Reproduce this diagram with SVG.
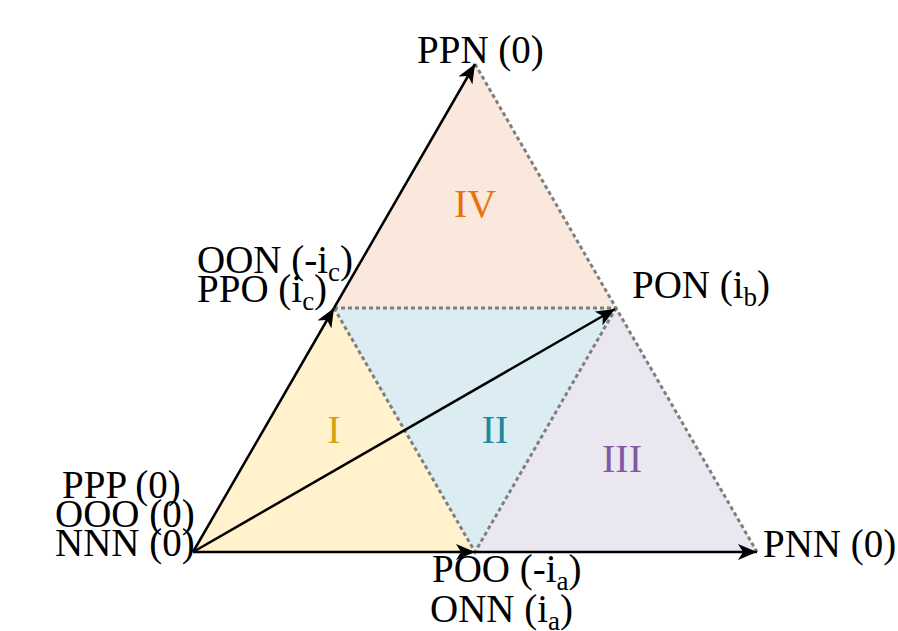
<svg xmlns="http://www.w3.org/2000/svg" width="898" height="631" viewBox="0 0 898 631">
<style>
.lbl{font-family:"Liberation Serif","Times New Roman",serif;font-size:39px;fill:#000}
.sub{font-size:27px}
.num{font-family:"Liberation Serif","Times New Roman",serif;font-size:40px;text-anchor:middle}
.dash{fill:none;stroke:#7f7f7f;stroke-width:3;stroke-dasharray:4 3}
.ax{fill:none;stroke:#000;stroke-width:2.5}
</style>
<defs>
<marker id="ah" markerUnits="userSpaceOnUse" markerWidth="20" markerHeight="16" refX="19" refY="8" orient="auto">
<path d="M0,0 L19,8 L0,16 L5,8 Z" fill="#000"/>
</marker>
</defs>
<rect width="898" height="631" fill="#fff"/>
<g id="region-I"><polygon points="193,552 475,552 334,308" fill="#fff2cc"/><text class="num" x="334" y="443" fill="#d4a20c">I</text></g>
<g id="region-II"><polygon points="334,308 616,308 475,552" fill="#dbedf3"/><text class="num" x="495" y="443" fill="#23879b">II</text></g>
<g id="region-III"><polygon points="475,552 757,552 616,308" fill="#ebe7f0"/><text class="num" x="622" y="472" fill="#7f5aa2">III</text></g>
<g id="region-IV"><polygon points="334,308 616,308 475,64" fill="#fbe8dc"/><text class="num" x="475" y="217" fill="#e8730e">IV</text></g>
<g id="connectors">
<path class="dash" d="M475,64 L757,552"/>
<path class="dash" d="M334,308 L616,308"/>
<path class="dash" d="M334,308 L475,552 L616,308"/>
<path class="ax" d="M193,552 L334,308" marker-end="url(#ah)"/>
<path class="ax" d="M334,308 L475,64" marker-end="url(#ah)"/>
<path class="ax" d="M193,552 L475,552" marker-end="url(#ah)"/>
<path class="ax" d="M475,552 L757,552" marker-end="url(#ah)"/>
<path class="ax" d="M193,552 L615,309" marker-end="url(#ah)"/>
</g>
<g id="node-PPN"><text class="lbl" x="417" y="63">PPN (0)</text></g>
<g id="node-PPO"><text class="lbl" x="197" y="273">OON (-i<tspan class="sub" dy="8">c</tspan><tspan dy="-8">)</tspan></text><text class="lbl" x="197" y="302">PPO (i<tspan class="sub" dy="8">c</tspan><tspan dy="-8">)</tspan></text></g>
<g id="node-PON"><text class="lbl" x="632" y="298">PON (i<tspan class="sub" dy="8">b</tspan><tspan dy="-8">)</tspan></text></g>
<g id="node-O"><text class="lbl" x="62" y="498">PPP (0)</text><text class="lbl" x="55" y="527">OOO (0)</text><text class="lbl" x="55" y="556">NNN (0)</text></g>
<g id="node-POO"><text class="lbl" x="432" y="582">POO (-i<tspan class="sub" dy="8">a</tspan><tspan dy="-8">)</tspan></text><text class="lbl" x="430" y="622">ONN (i<tspan class="sub" dy="8">a</tspan><tspan dy="-8">)</tspan></text></g>
<g id="node-PNN"><text class="lbl" x="763" y="557">PNN (0)</text></g>
</svg>
